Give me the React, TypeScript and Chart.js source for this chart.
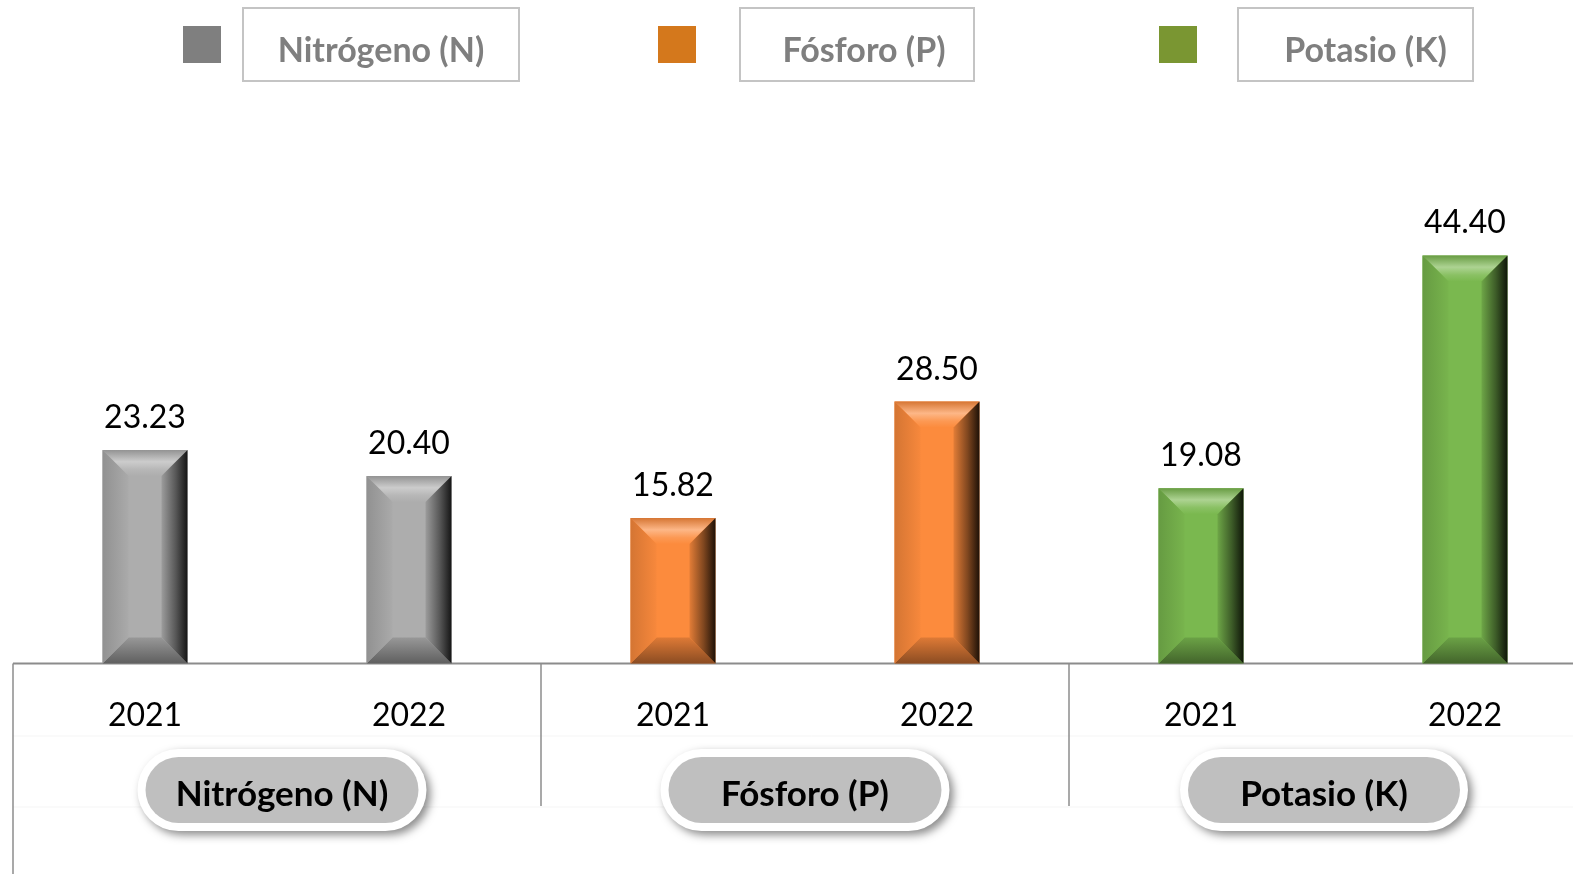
import React, { useEffect, useRef } from "react";
import { Chart, registerables } from "chart.js";

Chart.register(...registerables);

// ---- data ----
const categories = ["2021", "2022", "2021", "2022", "2021", "2022"];
const values = [23.23, 20.4, 15.82, 28.5, 19.08, 44.4];
const groupNames = ["Nitrógeno (N)", "Fósforo (P)", "Potasio (K)"];
const barColors = ["#adadad", "#adadad", "#fc8b3d", "#fc8b3d", "#7ab84f", "#7ab84f"];
const legendColors = ["#7f7f7f", "#d4781c", "#7a9632"];

// ---- layout / style constants ----
const FONT = "Lato, 'Open Sans', sans-serif";
const CANVAS_W = 1610;
const CANVAS_H = 874;
const legendSquares = [183, 658, 1159];
const legendBoxes = [
  [243, 519],
  [740, 974],
  [1238, 1473],
];
const legendTextShift = [0, 7, 10];
const pillWidths = [273, 273, 272];
const pillShift = [5, 0, -9];

function hexToRgb(h: string) {
  const n = parseInt(h.slice(1), 16);
  return [(n >> 16) & 255, (n >> 8) & 255, n & 255];
}
function shade(h: string, f: number) {
  const [r, g, b] = hexToRgb(h);
  if (f <= 1) return `rgb(${Math.round(r * f)},${Math.round(g * f)},${Math.round(b * f)})`;
  const t = f - 1;
  return `rgb(${Math.round(r + (255 - r) * t)},${Math.round(g + (255 - g) * t)},${Math.round(b + (255 - b) * t)})`;
}

function poly(ctx: CanvasRenderingContext2D, pts: number[][], fill: any) {
  ctx.beginPath();
  ctx.moveTo(pts[0][0], pts[0][1]);
  for (let i = 1; i < pts.length; i++) ctx.lineTo(pts[i][0], pts[i][1]);
  ctx.closePath();
  ctx.fillStyle = fill;
  ctx.fill();
}

function roundRect(ctx: CanvasRenderingContext2D, x: number, y: number, w: number, h: number, r: number) {
  ctx.beginPath();
  ctx.moveTo(x + r, y);
  ctx.lineTo(x + w - r, y);
  ctx.arc(x + w - r, y + r, r, -Math.PI / 2, Math.PI / 2);
  ctx.lineTo(x + r, y + h);
  ctx.arc(x + r, y + r, r, Math.PI / 2, (3 * Math.PI) / 2);
  ctx.closePath();
}

const decorPlugin = {
  id: "decor",
  beforeDatasetsDraw(chart: any) {
    const ctx: CanvasRenderingContext2D = chart.ctx;
    const xs = chart.scales.x;
    const ys = chart.scales.y;
    const area = chart.chartArea;
    const y0 = ys.getPixelForValue(0);
    ctx.save();
    // faint table lines
    ctx.strokeStyle = "#f5f5f5";
    ctx.lineWidth = 1;
    [736, 807].forEach((yy) => {
      ctx.beginPath();
      ctx.moveTo(area.left, yy);
      ctx.lineTo(chart.width, yy);
      ctx.stroke();
    });
    // baseline
    ctx.strokeStyle = "#8c8c8c";
    ctx.lineWidth = 2;
    ctx.beginPath();
    ctx.moveTo(area.left, y0);
    ctx.lineTo(chart.width, y0);
    ctx.stroke();
    // dividers
    ctx.lineWidth = 1.5;
    ctx.beginPath();
    ctx.moveTo(area.left, y0);
    ctx.lineTo(area.left, chart.height);
    ctx.stroke();
    for (let g = 1; g < groupNames.length; g++) {
      const xx = (xs.getPixelForValue(g * 2 - 1) + xs.getPixelForValue(g * 2)) / 2;
      ctx.beginPath();
      ctx.moveTo(xx, y0);
      ctx.lineTo(xx, 806);
      ctx.stroke();
    }
    ctx.restore();
  },
  afterDatasetsDraw(chart: any) {
    const ctx: CanvasRenderingContext2D = chart.ctx;
    const xs = chart.scales.x;
    const meta = chart.getDatasetMeta(0);
    ctx.save();
    // bevels
    meta.data.forEach((el: any, i: number) => {
      const base = barColors[i];
      const L = el.x - el.width / 2;
      const R = el.x + el.width / 2;
      const T = el.y;
      const B = el.base;
      const b = Math.min(26, (B - T) / 2, el.width / 2 - 4);
      // top
      let g = ctx.createLinearGradient(0, T, 0, T + b);
      g.addColorStop(0, shade(base, 0.85));
      g.addColorStop(0.45, shade(base, 1.38));
      g.addColorStop(0.75, shade(base, 1.12));
      g.addColorStop(1, base);
      poly(ctx, [[L, T], [R, T], [R - b, T + b], [L + b, T + b]], g);
      // bottom
      g = ctx.createLinearGradient(0, B - b, 0, B);
      g.addColorStop(0, shade(base, 0.88));
      g.addColorStop(1, shade(base, 0.55));
      poly(ctx, [[L, B], [R, B], [R - b, B - b], [L + b, B - b]], g);
      // left
      g = ctx.createLinearGradient(L, 0, L + b, 0);
      g.addColorStop(0, shade(base, 0.84));
      g.addColorStop(1, shade(base, 0.98));
      poly(ctx, [[L, T], [L + b, T + b], [L + b, B - b], [L, B]], g);
      // right
      g = ctx.createLinearGradient(R - b, 0, R, 0);
      g.addColorStop(0, shade(base, 0.9));
      g.addColorStop(0.55, shade(base, 0.5));
      g.addColorStop(1, shade(base, 0.12));
      poly(ctx, [[R, T], [R - b, T + b], [R - b, B - b], [R, B]], g);
      // value label
      ctx.fillStyle = "#000";
      ctx.font = `32px ${FONT}`;
      ctx.textAlign = "center";
      ctx.textBaseline = "alphabetic";
      ctx.fillText(values[i].toFixed(2), el.x, T - 22);
    });
    // year labels
    ctx.fillStyle = "#000";
    ctx.font = `32px ${FONT}`;
    ctx.textAlign = "center";
    categories.forEach((c, i) => {
      ctx.fillText(c, xs.getPixelForValue(i), 726);
    });
    // group pills
    groupNames.forEach((name, gi) => {
      const cx = (xs.getPixelForValue(gi * 2) + xs.getPixelForValue(gi * 2 + 1)) / 2 + pillShift[gi];
      const w = pillWidths[gi];
      const h = 66;
      const x = cx - w / 2;
      const y = 757;
      const bw = 8;
      ctx.save();
      ctx.shadowColor = "rgba(0,0,0,0.45)";
      ctx.shadowBlur = 9;
      ctx.shadowOffsetX = 4;
      ctx.shadowOffsetY = 4;
      roundRect(ctx, x - bw, y - bw, w + 2 * bw, h + 2 * bw, (h + 2 * bw) / 2);
      ctx.fillStyle = "#ffffff";
      ctx.fill();
      ctx.restore();
      roundRect(ctx, x, y, w, h, h / 2);
      ctx.fillStyle = "#bfbfbf";
      ctx.fill();
      ctx.fillStyle = "#000";
      ctx.font = `bold 35px ${FONT}`;
      ctx.textAlign = "center";
      ctx.fillText(name, cx, 806);
    });
    // legend
    groupNames.forEach((name, gi) => {
      ctx.fillStyle = legendColors[gi];
      ctx.fillRect(legendSquares[gi], 26, 38, 37);
      const [bx0, bx1] = legendBoxes[gi];
      ctx.strokeStyle = "#c4c4c4";
      ctx.lineWidth = 2;
      ctx.strokeRect(bx0, 8, bx1 - bx0, 73);
      ctx.fillStyle = "#7f7f7f";
      ctx.font = `bold 34px ${FONT}`;
      ctx.textAlign = "center";
      ctx.fillText(name, (bx0 + bx1) / 2 + legendTextShift[gi], 62);
    });
    ctx.restore();
  },
};

export default function App() {
  const ref = useRef<HTMLCanvasElement | null>(null);
  useEffect(() => {
    if (!ref.current) return;
    const chart = new Chart(ref.current, {
      type: "bar",
      data: {
        labels: categories,
        datasets: [
          {
            data: values,
            backgroundColor: barColors,
            borderWidth: 0,
            barPercentage: 0.322,
            categoryPercentage: 1,
          },
        ],
      },
      options: {
        responsive: false,
        animation: false,
        devicePixelRatio: 1,
        layout: { padding: { left: 13, right: 13, top: 204, bottom: 210.5 } },
        plugins: { legend: { display: false }, tooltip: { enabled: false } },
        scales: {
          x: { display: false },
          y: { display: false, min: 0, max: 50 },
        },
      },
      plugins: [decorPlugin],
    });
    return () => chart.destroy();
  }, []);
  return (
    <div
      style={{
        position: "fixed",
        left: 0,
        top: 0,
        width: 1573,
        height: 874,
        overflow: "hidden",
        background: "#fff",
      }}
    >
      <canvas ref={ref} width={CANVAS_W} height={CANVAS_H} style={{ display: "block" }} />
    </div>
  );
}
